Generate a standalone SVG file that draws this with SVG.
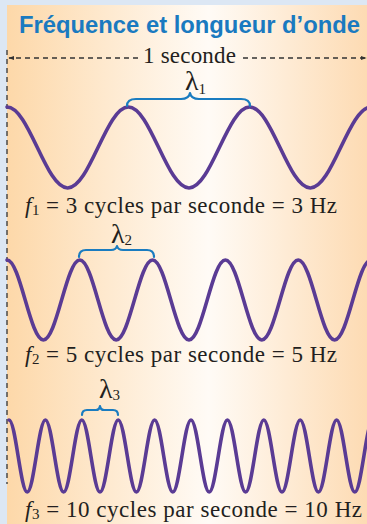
<svg xmlns="http://www.w3.org/2000/svg" width="367" height="524" viewBox="0 0 367 524">
  <defs>
    <linearGradient id="bg" x1="0" y1="0" x2="1" y2="0">
      <stop offset="0" stop-color="#fdd8a9"/>
      <stop offset="0.56" stop-color="#fffbf6"/>
      <stop offset="1" stop-color="#fddbb3"/>
    </linearGradient>
    <marker id="arr" viewBox="0 0 10 10" refX="9" refY="5" markerWidth="6" markerHeight="6" orient="auto-start-reverse" markerUnits="userSpaceOnUse">
      <path d="M0,1.5 L10,5 L0,8.5 Z" fill="#333"/>
    </marker>
    <style>
      .title { font-family: "Liberation Sans", Arial, sans-serif; font-weight: bold; font-size: 24px; fill: #1a7ac0; }
      .serif { font-family: "Liberation Serif", "Times New Roman", serif; font-size: 23px; fill: #231f20; }
      .lam { font-family: "Liberation Serif", "Times New Roman", serif; font-size: 28px; fill: #231f20; }
      .sub { font-size: 15px; }
      .wave { fill: none; stroke: #5a3b94; stroke-width: 3.6; stroke-linecap: round; }
      .brace { fill: none; stroke: #1a7cc0; stroke-width: 2.2; stroke-linecap: round; stroke-linejoin: round; }
      .dash { fill: none; stroke: #333; stroke-width: 1.3; stroke-dasharray: 5 4; }
    </style>
  </defs>

  <rect x="0" y="0" width="367" height="524" fill="#dce7f4"/>
  <rect x="7" y="5" width="360" height="519" fill="url(#bg)"/>

  <text class="title" x="19" y="33" textLength="341" lengthAdjust="spacingAndGlyphs">Fréquence et longueur d’onde</text>

  <g id="connectors">
    <line class="dash" x1="7" y1="50" x2="7" y2="484" stroke-width="1.6"/>
    <line class="dash" x1="138" y1="58" x2="9" y2="58" marker-end="url(#arr)"/>
    <line class="dash" x1="243" y1="58" x2="366" y2="58" marker-end="url(#arr)"/>
  </g>
  <text class="serif" x="143" y="63" textLength="93">1 seconde</text>

  <g id="wave1">
    <path class="wave" d="M7,107 C29.05,107 45.62,188 67.67,188 S106.28,107 128.33,107 S166.95,188 189,188 S227.62,107 249.67,107 S288.28,188 310.33,188 S348.95,107 371,107"/>
    <path class="brace" d="M127,106 Q127,99 136,99 L181,99 Q189,99 190,93 Q191,99 199,99 L241,99 Q250,99 250,106"/>
    <text class="lam" x="185" y="90">λ<tspan class="sub" dy="4">1</tspan></text>
    <text class="serif" x="25" y="213" textLength="312"><tspan font-style="italic">f</tspan><tspan class="sub" dy="2">1</tspan><tspan dy="-2"> = 3 cycles par seconde = 3 Hz</tspan></text>
  </g>

  <g id="wave2">
    <path class="wave" d="M7,260 C20.23,260 30.17,340 43.4,340 S66.57,260 79.8,260 S102.97,340 116.2,340 S139.37,260 152.6,260 S175.77,340 189,340 S212.17,260 225.4,260 S248.57,340 261.8,340 S284.97,260 298.2,260 S321.37,340 334.6,340 S357.77,260 371,260"/>
    <path class="brace" d="M79,257 Q79,250 86,250 L111,250 Q116,250 117,246 Q118,250 123,250 L147,250 Q154,250 154,257"/>
    <text class="lam" x="111" y="243">λ<tspan class="sub" dy="2">2</tspan></text>
    <text class="serif" x="25" y="362" textLength="312"><tspan font-style="italic">f</tspan><tspan class="sub" dy="2">2</tspan><tspan dy="-2"> = 5 cycles par seconde = 5 Hz</tspan></text>
  </g>

  <g id="wave3">
    <path class="wave" d="M9,420 C15.61,420 20.59,492 27.2,492 S38.79,420 45.4,420 S56.99,492 63.6,492 S75.19,420 81.8,420 S93.39,492 100,492 S111.59,420 118.2,420 S129.79,492 136.4,492 S147.99,420 154.6,420 S166.19,492 172.8,492 S184.39,420 191,420 S202.59,492 209.2,492 S220.79,420 227.4,420 S238.99,492 245.6,492 S257.19,420 263.8,420 S275.39,492 282,492 S293.59,420 300.2,420 S311.79,492 318.4,492 S329.99,420 336.6,420 S348.19,492 354.8,492 S366.39,420 373,420"/>
    <path class="brace" d="M82,415 Q82,410 87,410 L96,410 Q99.5,410 100,406 Q100.5,410 104,410 L113,410 Q118,410 118,415"/>
    <text class="lam" x="99" y="398">λ<tspan class="sub" dy="2">3</tspan></text>
    <text class="serif" x="25" y="517" textLength="337"><tspan font-style="italic">f</tspan><tspan class="sub" dy="2">3</tspan><tspan dy="-2"> = 10 cycles par seconde = 10 Hz</tspan></text>
  </g>
</svg>
